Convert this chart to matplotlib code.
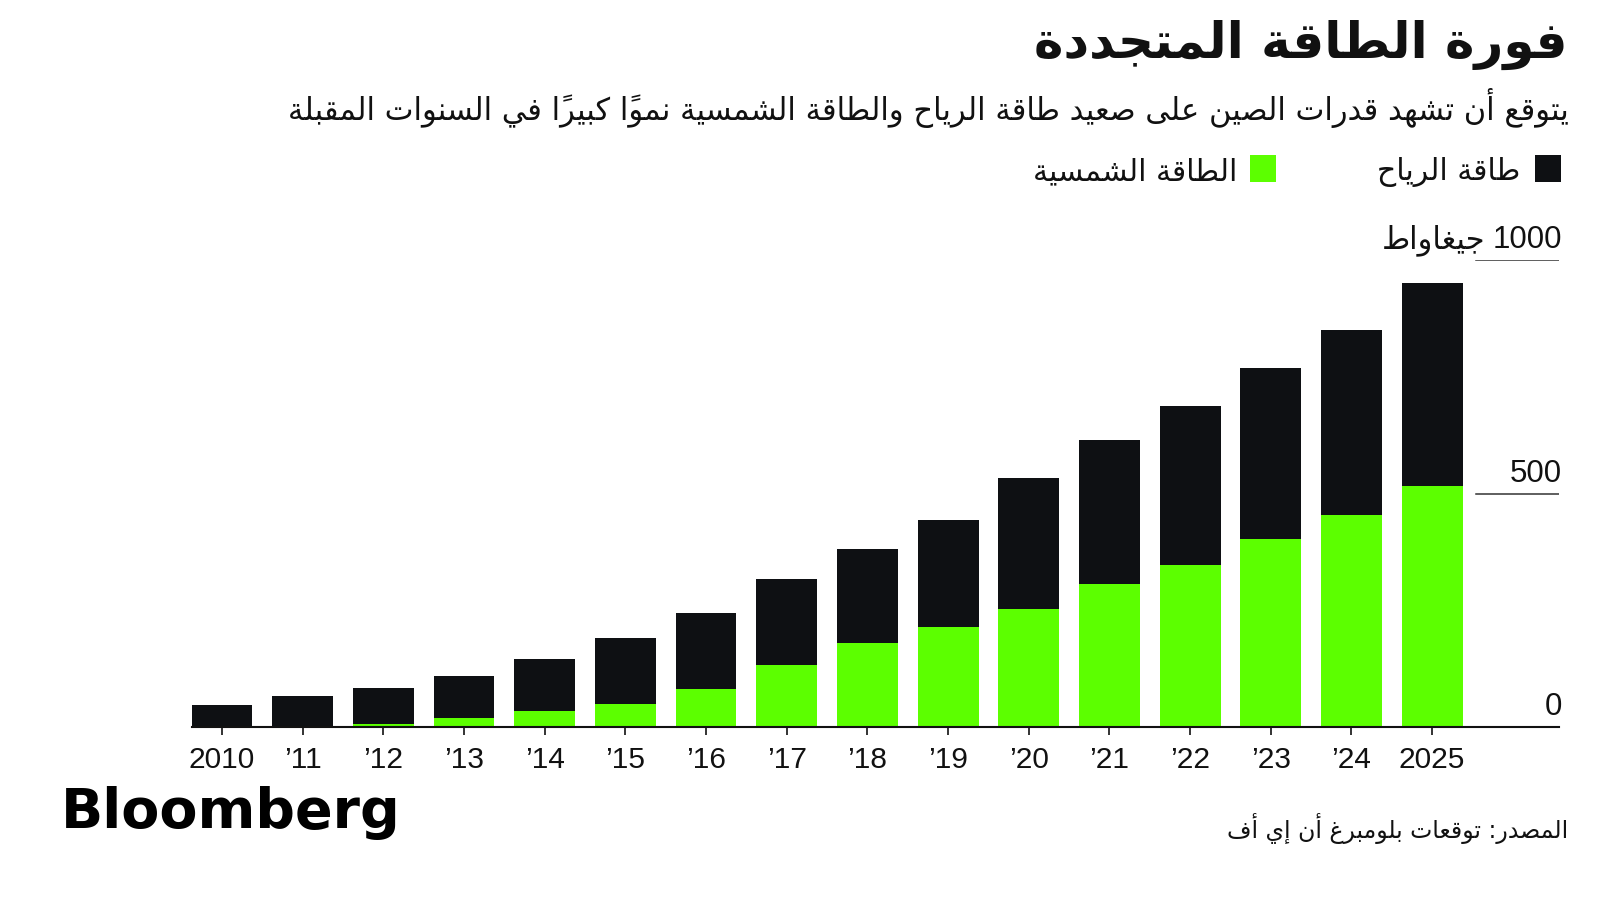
import matplotlib
matplotlib.use("Agg")
import matplotlib.pyplot as plt
from matplotlib.patches import Rectangle
from matplotlib.transforms import offset_copy

# --- data (GW) ---
years = ["2010", "’11", "’12", "’13", "’14", "’15", "’16", "’17",
         "’18", "’19", "’20", "’21", "’22", "’23", "’24", "2025"]
solar = [1, 3, 7, 20, 35, 50, 81, 134, 181, 214, 254, 307, 348, 402, 454, 516]
wind = [46, 63, 77, 89, 111, 142, 164, 184, 201, 229, 280, 307, 339, 366, 397, 435]
y_ticks = [0, 500, 1000]

title = "فورة الطاقة المتجددة"
subtitle = "يتوقع أن تشهد قدرات الصين على صعيد طاقة الرياح والطاقة الشمسية نمواً كبيراً في السنوات المقبلة"
wind_label = "طاقة الرياح"
solar_label = "الطاقة الشمسية"
unit_label = "جيغاواط"
source = "المصدر: توقعات بلومبرغ أن إي أف"

WIND_C = "#0e1013"
SOLAR_C = "#5cff00"
INK = "#111111"

# --- tiny arabic shaper: matplotlib has no complex text layout ---
# letter -> (first presentation form, number of forms); order iso, fin, ini, med
FORMS = {
    'ء': (0xFE80, 1), 'آ': (0xFE81, 2), 'أ': (0xFE83, 2), 'ؤ': (0xFE85, 2),
    'إ': (0xFE87, 2), 'ئ': (0xFE89, 4), 'ا': (0xFE8D, 2), 'ب': (0xFE8F, 4),
    'ة': (0xFE93, 2), 'ت': (0xFE95, 4), 'ث': (0xFE99, 4), 'ج': (0xFE9D, 4),
    'ح': (0xFEA1, 4), 'خ': (0xFEA5, 4), 'د': (0xFEA9, 2), 'ذ': (0xFEAB, 2),
    'ر': (0xFEAD, 2), 'ز': (0xFEAF, 2), 'س': (0xFEB1, 4), 'ش': (0xFEB5, 4),
    'ص': (0xFEB9, 4), 'ض': (0xFEBD, 4), 'ط': (0xFEC1, 4), 'ظ': (0xFEC5, 4),
    'ع': (0xFEC9, 4), 'غ': (0xFECD, 4), 'ف': (0xFED1, 4), 'ق': (0xFED5, 4),
    'ك': (0xFED9, 4), 'ل': (0xFEDD, 4), 'م': (0xFEE1, 4), 'ن': (0xFEE5, 4),
    'ه': (0xFEE9, 4), 'و': (0xFEED, 2), 'ى': (0xFEEF, 2), 'ي': (0xFEF1, 4),
}
LAM_ALEF = {'آ': 0xFEF5, 'أ': 0xFEF7, 'إ': 0xFEF9, 'ا': 0xFEFB}
MARKS = set(chr(c) for c in range(0x064B, 0x0653))


def shape(text):
    chars = list(text)

    def neighbour(i, step):
        j = i + step
        while 0 <= j < len(chars) and chars[j] in MARKS:
            j += step
        return j if 0 <= j < len(chars) else None

    out = []
    i = 0
    while i < len(chars):
        c = chars[i]
        if c not in FORMS:
            out.append(c)
            i += 1
            continue
        p = neighbour(i, -1)
        n = neighbour(i, 1)
        joins_prev = p is not None and chars[p] in FORMS and FORMS[chars[p]][1] == 4
        joins_next = n is not None and chars[n] in FORMS
        if c == 'ل' and n is not None and chars[n] in LAM_ALEF:
            out.append(chr(LAM_ALEF[chars[n]] + joins_prev))
            i = n + 1
            continue
        base, count = FORMS[c]
        if count == 4:
            idx = {(False, False): 0, (True, False): 1,
                   (False, True): 2, (True, True): 3}[(joins_prev, joins_next)]
        elif count == 2:
            idx = 1 if joins_prev else 0
        else:
            idx = 0
        out.append(chr(base + idx))
        i += 1
    return out


def rtl(text):
    # shape, then lay out right-to-left keeping digit runs and marks intact
    clusters = []
    for ch in shape(text):
        if ch in MARKS and clusters:
            clusters[-1] += ch
        elif ch.isdigit() and clusters and clusters[-1][-1].isdigit():
            clusters[-1] += ch
        else:
            clusters.append(ch)
    return "".join(reversed(clusters))


AR = ["DejaVu Sans"]
LAT = ["Liberation Sans", "DejaVu Sans"]

fig = plt.figure(figsize=(16, 9), dpi=100)
fig.patch.set_facecolor("white")

W, H = 1600, 900
ax = fig.add_axes([191.5 / W, 1 - 727.3 / H, (1559 - 191.5) / W, (727.3 - 260) / H])

x = list(range(len(years)))
ax.bar(x, solar, width=0.756, color=SOLAR_C, linewidth=0, zorder=2)
ax.bar(x, wind, width=0.756, bottom=solar, color=WIND_C, linewidth=0, zorder=2)

ax.set_xlim(-0.378, 16.574)
ax.set_ylim(0, 1000)

for s in ["top", "right", "left"]:
    ax.spines[s].set_visible(False)
ax.spines["bottom"].set_color(INK)
ax.spines["bottom"].set_linewidth(1.5)
ax.spines["bottom"].set_zorder(3)

ax.set_xticks(x)
ax.set_xticklabels(years, family=LAT, fontsize=21.5, color=INK)
ax.tick_params(axis="x", length=6, width=1.2, color=INK, pad=7.5)
ax.set_yticks([])

# short right-hand grid lines with labels sitting on top
for v in y_ticks[1:]:
    ax.axhline(v, xmin=(1476 - 191.5) / (1559 - 191.5), xmax=1.0,
               color="#333333", lw=1.1, zorder=1)
lab_tr = offset_copy(ax.transData, fig=fig, x=3, y=12, units="dots")
for v in y_ticks:
    ax.text(16.574, v, str(v), transform=lab_tr, ha="right", va="baseline",
            family=LAT, fontsize=22.5, color=INK)
unit_tr = offset_copy(ax.transData, fig=fig, x=-74, y=12, units="dots")
ax.text(16.574, y_ticks[-1], rtl(unit_label), transform=unit_tr, ha="right",
        va="baseline", family=AR, fontsize=22, color=INK)

# title block
fig.text(1568 / W, 1 - 58 / H, rtl(title), ha="right", va="baseline",
         family=AR, fontweight="bold", fontsize=36, color=INK)
fig.text(1569 / W, 1 - 120 / H, rtl(subtitle), ha="right", va="baseline",
         family=AR, fontsize=22, color=INK)

# legend
fig.add_artist(Rectangle((1535 / W, 1 - 182 / H), 26 / W, 27 / H,
                         transform=fig.transFigure, color=WIND_C, lw=0))
fig.add_artist(Rectangle((1249.5 / W, 1 - 182 / H), 26 / W, 27 / H,
                         transform=fig.transFigure, color=SOLAR_C, lw=0))
fig.text(1520 / W, 1 - 180 / H, rtl(wind_label), ha="right", va="baseline",
         family=AR, fontsize=21.5, color=INK)
fig.text(1237 / W, 1 - 180 / H, rtl(solar_label), ha="right", va="baseline",
         family=AR, fontsize=21.5, color=INK)

# footer
fig.text(61 / W, 1 - 828 / H, "Bloomberg", ha="left", va="baseline",
         family="DejaVu Sans", fontweight="bold", fontsize=40, color="black")
fig.text(1568 / W, 1 - 838 / H, rtl(source), ha="right", va="baseline",
         family=AR, fontsize=17, color=INK)

fig.savefig("out.png", dpi=100, facecolor="white")
